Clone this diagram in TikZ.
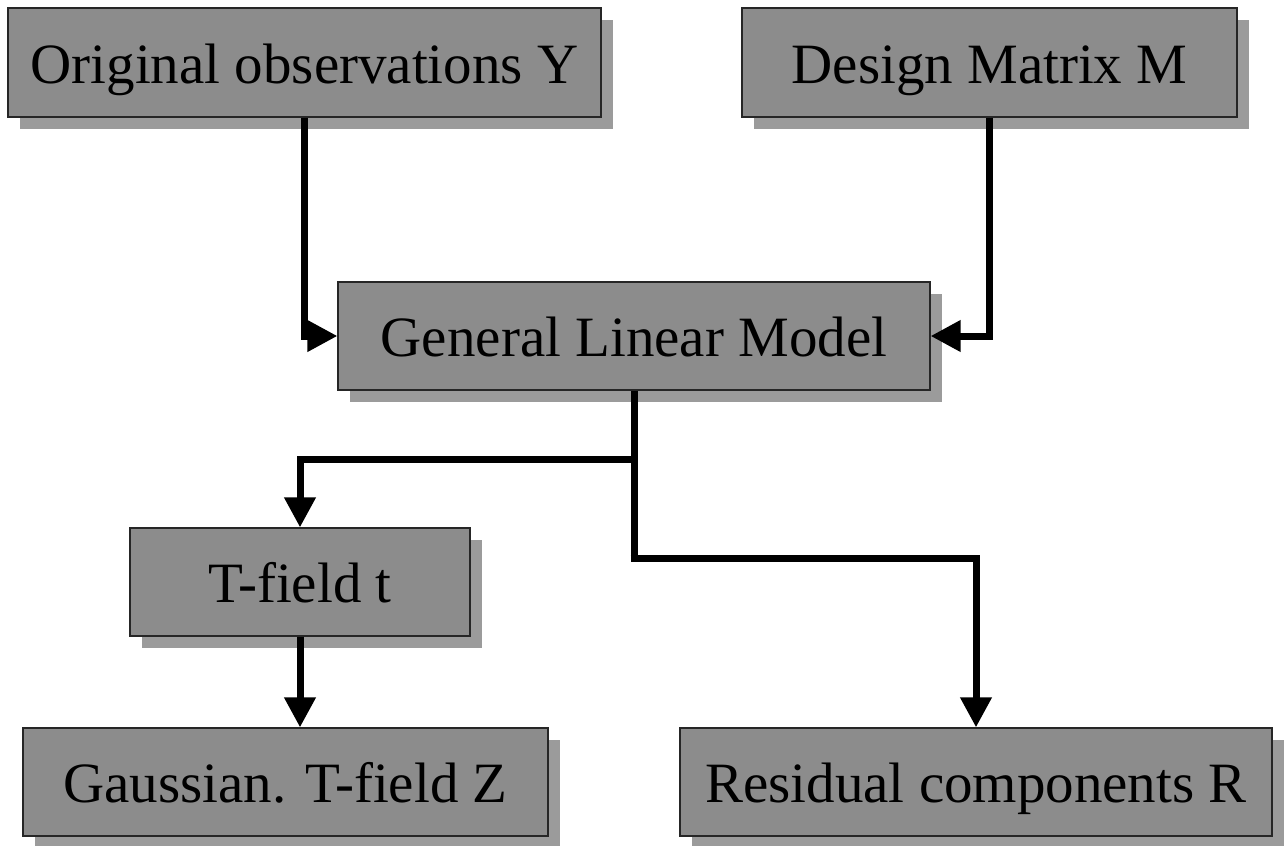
\documentclass[tikz,border=0pt]{standalone}
\usepackage{fontspec}
\setmainfont{Liberation Serif}
\usetikzlibrary{arrows.meta,shadows}
\definecolor{boxgray}{RGB}{140,140,140}
\definecolor{shadegray}{RGB}{155,155,155}
\tikzset{
  flowbox/.style={rectangle, draw=black!85, line width=1.2pt, fill=boxgray,
    inner sep=0pt, text height=41pt, text depth=0pt,
    font=\fontsize{57}{60}\selectfont,
    drop shadow={shadow xshift=12pt, shadow yshift=-12pt, fill=shadegray, opacity=1}},
  conn/.style={line width=7pt, line join=miter, -{Triangle[length=30pt,width=30pt]}},
  plain/.style={line width=7pt, line join=miter}
}
\begin{document}
\begin{tikzpicture}[x=1pt,y=-1pt]
\useasboundingbox[fill=white] (0,0) rectangle (1288,846);
\node[flowbox, minimum width=593pt, minimum height=109pt] (Y) at (304.5,62.5) {Original observations Y};
\node[flowbox, minimum width=495pt, minimum height=109pt] (M) at (989.5,62.5) {Design Matrix M};
\node[flowbox, minimum width=592pt, minimum height=108pt] (G) at (634,336) {General Linear Model};
\node[flowbox, minimum width=340pt, minimum height=108pt] (T) at (300,582) {T-field t};
\node[flowbox, minimum width=525pt, minimum height=108pt] (Z) at (285.5,782) {Gaussian. T-field Z};
\node[flowbox, minimum width=592pt, minimum height=108pt] (R) at (976,782) {Residual components R};
\coordinate (j1) at (634,459);
\coordinate (j2) at (634,558);
\draw[conn] (Y.south) |- (G.west);
\draw[conn] (M.south) |- (G.east);
\draw[plain] (G.south) -- (j2);
\draw[conn] (j1) -| (T.north);
\draw[conn] ([xshift=-3.5pt]j2) -| (R.north);
\draw[conn] (T.south) -- (T.south |- Z.north);
\end{tikzpicture}
\end{document}
